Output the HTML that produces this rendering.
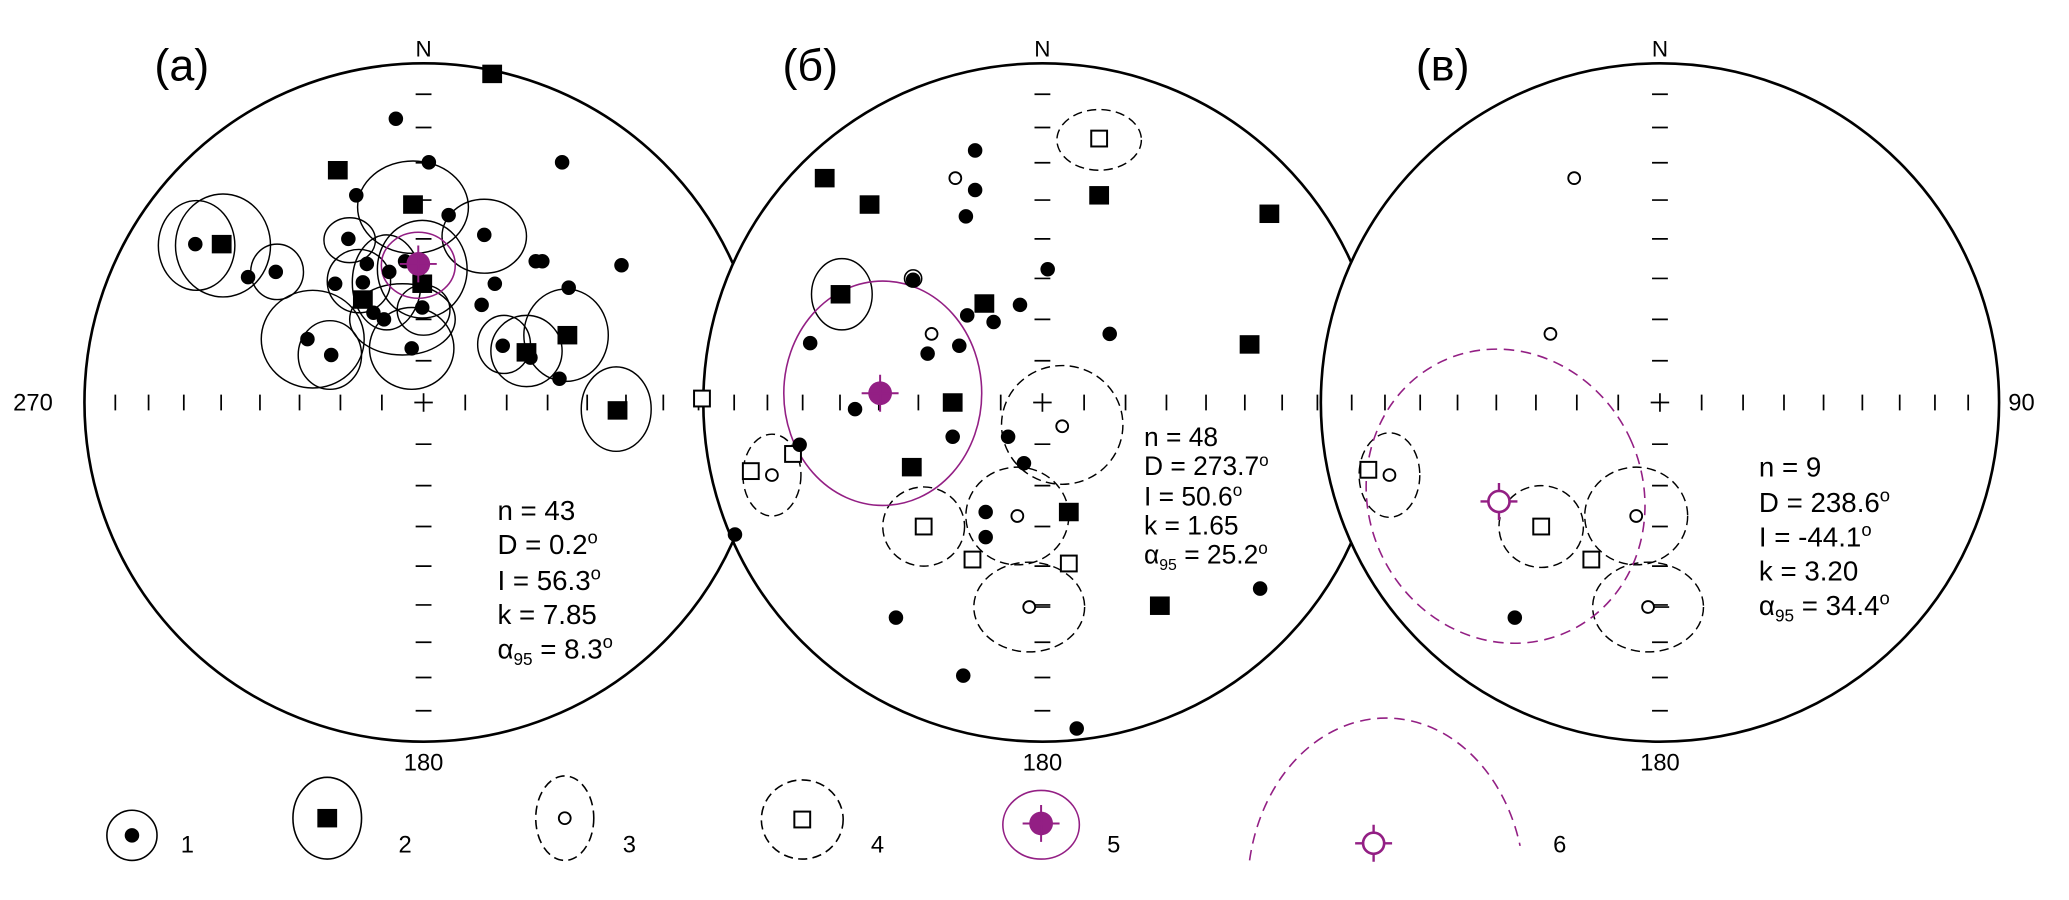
<!DOCTYPE html>
<html><head><meta charset="utf-8"><style>html,body{margin:0;padding:0;background:#fff}svg{display:block}</style></head>
<body>
<svg xmlns="http://www.w3.org/2000/svg" xmlns:xlink="http://www.w3.org/1999/xlink" width="2069" height="900" viewBox="0 0 1568 682" preserveAspectRatio="none" font-family="'Liberation Sans', sans-serif">
<defs>
<g id="ticks" stroke="#000" stroke-width="1.3" fill="none">
<path d="M31.6,-6V6M63,-6V6M94,-6V6M124,-6V6M153.4,-6V6M181.7,-6V6M208.4,-6V6M233.6,-6V6M-31.6,-6V6M-63,-6V6M-94,-6V6M-124,-6V6M-153.4,-6V6M-181.7,-6V6M-208.4,-6V6M-233.6,-6V6"/>
<path d="M-6,31.6H6M-6,63H6M-6,94H6M-6,124H6M-6,153.4H6M-6,181.7H6M-6,208.4H6M-6,233.6H6M-6,-31.6H6M-6,-63H6M-6,-94H6M-6,-124H6M-6,-153.4H6M-6,-181.7H6M-6,-208.4H6M-6,-233.6H6"/>
<path d="M-7,0H7M0,-7V7"/>
</g>
<rect id="sq" x="-7.5" y="-7" width="15" height="14" fill="#000"/>
<rect id="osq" x="-6" y="-6" width="12" height="12" fill="#fff" stroke="#000" stroke-width="1.5"/>
<circle id="d" r="5.5" fill="#000"/>
<circle id="oc" r="4.5" fill="#fff" stroke="#000" stroke-width="1.4"/>
<g id="mdot"><circle r="9" fill="#931f84"/><path d="M-14,0H14M0,-14V14" stroke="#931f84" stroke-width="1.5"/></g>
<g id="mring"><circle r="8" fill="#fff" stroke="#931f84" stroke-width="2"/><path d="M-14,0H-8M8,0H14M0,-14V-8M0,8V14" stroke="#931f84" stroke-width="1.8"/></g>
</defs>

<!-- Panel A -->
<circle cx="321" cy="305" r="257" fill="#fff" stroke="#000" stroke-width="2"/>
<use xlink:href="#ticks" x="321" y="305"/>
<g fill="none" stroke="#000" stroke-width="1.1">
<ellipse cx="149" cy="186" rx="29" ry="34"/>
<ellipse cx="169" cy="186" rx="36" ry="39"/>
<ellipse cx="210" cy="206" rx="20" ry="21"/>
<ellipse cx="313" cy="157" rx="42" ry="35"/>
<ellipse cx="367" cy="179" rx="32" ry="28"/>
<ellipse cx="265" cy="182" rx="19.5" ry="17"/>
<ellipse cx="320" cy="204" rx="34" ry="37"/>
<ellipse cx="272" cy="213" rx="24" ry="24"/>
<ellipse cx="293" cy="214" rx="26" ry="36"/>
<ellipse cx="305" cy="242" rx="40" ry="27"/>
<ellipse cx="321" cy="235" rx="20" ry="19"/>
<ellipse cx="237" cy="257" rx="39" ry="37"/>
<ellipse cx="250" cy="269" rx="24" ry="26"/>
<ellipse cx="312" cy="264" rx="32" ry="31"/>
<ellipse cx="382" cy="261" rx="20" ry="22"/>
<ellipse cx="399" cy="266" rx="27" ry="27"/>
<ellipse cx="429" cy="254" rx="32" ry="35"/>
<ellipse cx="467" cy="310" rx="26.5" ry="32"/>
</g>
<ellipse cx="317" cy="201" rx="28" ry="25" fill="none" stroke="#931f84" stroke-width="1.2"/>
<use xlink:href="#sq" x="373" y="56"/><use xlink:href="#sq" x="256" y="129"/><use xlink:href="#sq" x="313" y="155"/>
<use xlink:href="#sq" x="168" y="185"/><use xlink:href="#sq" x="320" y="215"/><use xlink:href="#sq" x="275" y="227"/>
<use xlink:href="#sq" x="430" y="254"/><use xlink:href="#sq" x="399" y="267"/><use xlink:href="#sq" x="468" y="311"/>
<g>
<use xlink:href="#d" x="300" y="90"/><use xlink:href="#d" x="325" y="123"/><use xlink:href="#d" x="426" y="123"/>
<use xlink:href="#d" x="270" y="148"/><use xlink:href="#d" x="340" y="163"/><use xlink:href="#d" x="367" y="178"/>
<use xlink:href="#d" x="148" y="185"/><use xlink:href="#d" x="264" y="181"/><use xlink:href="#d" x="209" y="206"/>
<use xlink:href="#d" x="188" y="210"/><use xlink:href="#d" x="278" y="200"/><use xlink:href="#d" x="295" y="206"/>
<use xlink:href="#d" x="307" y="198"/><use xlink:href="#d" x="406" y="198"/><use xlink:href="#d" x="411" y="198"/>
<use xlink:href="#d" x="471" y="201"/><use xlink:href="#d" x="254" y="215"/><use xlink:href="#d" x="275" y="214"/>
<use xlink:href="#d" x="375" y="215"/><use xlink:href="#d" x="431" y="218"/><use xlink:href="#d" x="365" y="231"/>
<use xlink:href="#d" x="320" y="233"/><use xlink:href="#d" x="283" y="237"/><use xlink:href="#d" x="291" y="242"/>
<use xlink:href="#d" x="233" y="257"/><use xlink:href="#d" x="251" y="269"/><use xlink:href="#d" x="312" y="264"/>
<use xlink:href="#d" x="381" y="262"/><use xlink:href="#d" x="402" y="271"/><use xlink:href="#d" x="424" y="287"/>
</g>
<use xlink:href="#mdot" x="317" y="200"/>
<text x="117" y="61" font-size="34">(a)</text>
<text x="321" y="43" font-size="17" text-anchor="middle">N</text>
<text x="321" y="584" font-size="18" text-anchor="middle">180</text>
<text x="10" y="311" font-size="18">270</text>
<g font-size="21">
<text x="377" y="394">n = 43</text>
<text x="377" y="420">D = 0.2<tspan font-size="14" dy="-8">o</tspan></text>
<text x="377" y="447">I = 56.3<tspan font-size="14" dy="-8">o</tspan></text>
<text x="377" y="473">k = 7.85</text>
<text x="377" y="499">α<tspan font-size="13" dy="5">95</tspan><tspan dy="-5"> = 8.3</tspan><tspan font-size="14" dy="-8">o</tspan></text>
</g>

<!-- Panel B -->
<circle cx="790" cy="305" r="257" fill="#fff" stroke="#000" stroke-width="2"/>
<use xlink:href="#ticks" x="790" y="305"/>
<g fill="none" stroke="#000" stroke-width="1.1">
<ellipse cx="638" cy="223" rx="23" ry="27"/>
</g>
<g fill="none" stroke="#000" stroke-width="1.1" stroke-dasharray="7,4">
<ellipse cx="833" cy="106" rx="32" ry="23"/>
<ellipse cx="805" cy="322" rx="46" ry="45"/>
<ellipse cx="585" cy="360" rx="22" ry="31"/>
<ellipse cx="700" cy="399" rx="31" ry="30"/>
<ellipse cx="771" cy="391" rx="39" ry="37"/>
<ellipse cx="780" cy="460" rx="42" ry="34"/>
</g>
<ellipse cx="669" cy="298" rx="75" ry="85" fill="none" stroke="#931f84" stroke-width="1.2"/>
<use xlink:href="#sq" x="625" y="135"/><use xlink:href="#sq" x="659" y="155"/><use xlink:href="#sq" x="833" y="148"/>
<use xlink:href="#sq" x="962" y="162"/><use xlink:href="#sq" x="637" y="223"/><use xlink:href="#sq" x="746" y="230"/>
<use xlink:href="#sq" x="947" y="261"/><use xlink:href="#sq" x="722" y="305"/><use xlink:href="#sq" x="691" y="354"/>
<use xlink:href="#sq" x="810" y="388"/><use xlink:href="#sq" x="879" y="459"/>
<use xlink:href="#osq" x="833" y="105"/><use xlink:href="#osq" x="532" y="302"/><use xlink:href="#osq" x="569" y="357"/>
<use xlink:href="#osq" x="601" y="344"/><use xlink:href="#osq" x="700" y="399"/><use xlink:href="#osq" x="737" y="424"/>
<use xlink:href="#osq" x="810" y="427"/>
<g>
<use xlink:href="#d" x="739" y="114"/><use xlink:href="#d" x="739" y="144"/><use xlink:href="#d" x="732" y="164"/>
<use xlink:href="#d" x="794" y="204"/><use xlink:href="#d" x="692" y="212"/><use xlink:href="#d" x="773" y="231"/>
<use xlink:href="#d" x="733" y="239"/><use xlink:href="#d" x="753" y="244"/><use xlink:href="#d" x="841" y="253"/>
<use xlink:href="#d" x="614" y="260"/><use xlink:href="#d" x="703" y="268"/><use xlink:href="#d" x="727" y="262"/>
<use xlink:href="#d" x="648" y="310"/><use xlink:href="#d" x="606" y="337"/><use xlink:href="#d" x="722" y="331"/>
<use xlink:href="#d" x="764" y="331"/><use xlink:href="#d" x="776" y="351"/><use xlink:href="#d" x="747" y="388"/>
<use xlink:href="#d" x="747" y="407"/><use xlink:href="#d" x="557" y="405"/><use xlink:href="#d" x="679" y="468"/>
<use xlink:href="#d" x="730" y="512"/><use xlink:href="#d" x="816" y="552"/><use xlink:href="#d" x="955" y="446"/>
</g>
<circle cx="692" cy="211" r="6.5" fill="none" stroke="#000" stroke-width="1.2"/>
<use xlink:href="#oc" x="724" y="135"/><use xlink:href="#oc" x="706" y="253"/><use xlink:href="#oc" x="585" y="360"/>
<use xlink:href="#oc" x="805" y="323"/><use xlink:href="#oc" x="771" y="391"/>
<path d="M784,460H796" stroke="#000" stroke-width="1.2"/><use xlink:href="#oc" x="780" y="460"/>
<use xlink:href="#mdot" x="667" y="298"/>
<text x="593" y="61" font-size="34">(б)</text>
<text x="790" y="43" font-size="17" text-anchor="middle">N</text>
<text x="790" y="584" font-size="18" text-anchor="middle">180</text>
<g font-size="20">
<text x="867" y="338">n = 48</text>
<text x="867" y="360">D = 273.7<tspan font-size="13" dy="-7">o</tspan></text>
<text x="867" y="383">I = 50.6<tspan font-size="13" dy="-7">o</tspan></text>
<text x="867" y="405">k = 1.65</text>
<text x="867" y="427">α<tspan font-size="12" dy="5">95</tspan><tspan dy="-5"> = 25.2</tspan><tspan font-size="13" dy="-7">o</tspan></text>
</g>

<!-- Panel C -->
<circle cx="1258" cy="305" r="257" fill="#fff" stroke="#000" stroke-width="2"/>
<use xlink:href="#ticks" x="1258" y="305"/>
<g fill="none" stroke="#000" stroke-width="1.1" stroke-dasharray="7,4">
<ellipse cx="1053" cy="360" rx="23" ry="32"/>
<ellipse cx="1168" cy="399" rx="32" ry="31"/>
<ellipse cx="1240" cy="391" rx="39" ry="37"/>
<ellipse cx="1249" cy="460" rx="42" ry="34"/>
</g>
<ellipse cx="1141" cy="376" rx="104" ry="113" transform="rotate(-25 1141 376)" fill="none" stroke="#931f84" stroke-width="1.2" stroke-dasharray="8,5"/>
<use xlink:href="#oc" x="1193" y="135"/><use xlink:href="#oc" x="1175" y="253"/><use xlink:href="#oc" x="1053" y="360"/>
<use xlink:href="#oc" x="1240" y="391"/>
<path d="M1253,460H1265" stroke="#000" stroke-width="1.2"/><use xlink:href="#oc" x="1249" y="460"/>
<use xlink:href="#osq" x="1037" y="356"/><use xlink:href="#osq" x="1168" y="399"/><use xlink:href="#osq" x="1206" y="424"/>
<use xlink:href="#d" x="1148" y="468"/>
<use xlink:href="#mring" x="1136" y="380"/>
<text x="1073" y="61" font-size="34">(в)</text>
<text x="1258" y="43" font-size="17" text-anchor="middle">N</text>
<text x="1258" y="584" font-size="18" text-anchor="middle">180</text>
<text x="1522" y="311" font-size="18">90</text>
<g font-size="21">
<text x="1333" y="361">n = 9</text>
<text x="1333" y="388">D = 238.6<tspan font-size="14" dy="-8">o</tspan></text>
<text x="1333" y="414">I = -44.1<tspan font-size="14" dy="-8">o</tspan></text>
<text x="1333" y="440">k = 3.20</text>
<text x="1333" y="466">α<tspan font-size="13" dy="5">95</tspan><tspan dy="-5"> = 34.4</tspan><tspan font-size="14" dy="-8">o</tspan></text>
</g>

<!-- Legend -->
<g fill="none" stroke="#000" stroke-width="1.2">
<ellipse cx="100" cy="633" rx="19" ry="19"/>
<ellipse cx="248" cy="620" rx="26" ry="31"/>
<ellipse cx="428" cy="620" rx="22" ry="32" stroke-dasharray="7,4"/>
<ellipse cx="608" cy="621" rx="31" ry="30" stroke-dasharray="7,4"/>
</g>
<use xlink:href="#d" x="100" y="633"/>
<use xlink:href="#sq" x="248" y="620"/>
<use xlink:href="#oc" x="428" y="620"/>
<use xlink:href="#osq" x="608" y="621"/>
<ellipse cx="789" cy="625" rx="29" ry="26" fill="none" stroke="#931f84" stroke-width="1.2"/>
<use xlink:href="#mdot" x="789" y="624"/>
<path d="M947,652 A105,130 0 0 1 1152,641" fill="none" stroke="#931f84" stroke-width="1.2" stroke-dasharray="8,5"/>
<use xlink:href="#mring" x="1041" y="639"/>
<g font-size="18">
<text x="137" y="646">1</text>
<text x="302" y="646">2</text>
<text x="472" y="646">3</text>
<text x="660" y="646">4</text>
<text x="839" y="646">5</text>
<text x="1177" y="646">6</text>
</g>
</svg>
</body></html>
